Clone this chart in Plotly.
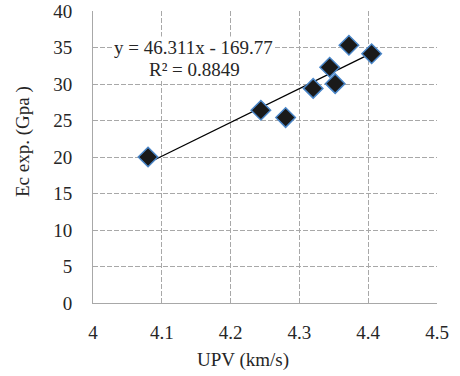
import plotly.graph_objects as go
import numpy as np

upv = [4.08, 4.244, 4.28, 4.32, 4.344, 4.352, 4.372, 4.405]
ec = [20.0, 26.4, 25.4, 29.4, 32.3, 30.05, 35.3, 34.15]
slope = 46.311
intercept = -169.77
r2 = 0.8849
x_ticks = [4, 4.1, 4.2, 4.3, 4.4, 4.5]
y_ticks = [0, 5, 10, 15, 20, 25, 30, 35, 40]

xl = np.array([min(upv), max(upv)])
yl = slope * xl + intercept

font = "Liberation Serif, Times New Roman, serif"
fs = 19
tc = "#262626"
fig = go.Figure()
fig.add_trace(go.Scatter(x=xl, y=yl, mode="lines", line=dict(color="black", width=1.3),
                         showlegend=False, hoverinfo="skip"))
fig.add_trace(go.Scatter(x=upv, y=ec, mode="markers",
                         marker=dict(symbol="diamond", size=15, color="#1a1a1a",
                                     line=dict(color="#4a86c8", width=1.5)),
                         showlegend=False))
L, T, W, H = 93, 11, 344, 292
def px(xp): return (xp - L) / W
def py(yp): return (T + H - yp) / H
fig.add_annotation(xref="paper", yref="paper", x=px(193), y=py(47), xanchor="center", yanchor="middle",
                   text=f"y = {slope}x - {abs(intercept)}", showarrow=False, bgcolor="white",
                   font=dict(family=font, size=fs, color=tc), borderpad=0)
fig.add_annotation(xref="paper", yref="paper", x=px(194), y=py(69.5), xanchor="center", yanchor="middle",
                   text=f"R² = {r2}", showarrow=False, bgcolor="white",
                   font=dict(family=font, size=fs, color=tc), borderpad=0)
fig.add_annotation(xref="paper", yref="paper", x=px(243), y=py(360), xanchor="center", yanchor="middle",
                   text="UPV (km/s)", showarrow=False, font=dict(family=font, size=fs, color=tc))
fig.add_annotation(xref="paper", yref="paper", x=px(23), y=py(142), xanchor="center", yanchor="middle",
                   text="Ec exp. (Gpa )", textangle=-90, showarrow=False, font=dict(family=font, size=fs, color=tc))
axis_common = dict(showgrid=True, gridcolor="#a8a8a8", griddash="5px,2px", gridwidth=1,
                   showline=True, linecolor="#a8a8a8", linewidth=1, zeroline=False, automargin=False,
                   tickfont=dict(family=font, size=fs, color=tc), ticks="")
fig.update_xaxes(range=[4, 4.5], tickvals=x_ticks, ticktext=[str(t) for t in x_ticks],
                 ticklabelstandoff=12, **axis_common)
fig.update_yaxes(range=[0, 40], tickvals=y_ticks, ticklabelstandoff=16, **axis_common)
fig.update_layout(width=460, height=376, margin=dict(l=L, r=460 - L - W, t=T, b=376 - T - H),
                  plot_bgcolor="white", paper_bgcolor="white")
fig.write_html("out.html", config={"displayModeBar": False},
               post_script="document.body.style.margin='0';")
